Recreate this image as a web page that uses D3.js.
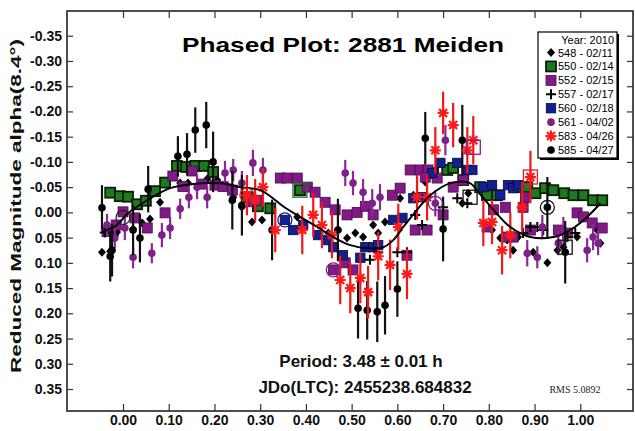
<!DOCTYPE html>
<html><head><meta charset="utf-8">
<script src="https://cdn.jsdelivr.net/npm/d3@7"></script>
<style>body{margin:0;background:#fff}svg{display:block}</style>
</head><body><svg id="c" width="635" height="431"></svg>
<script>
// ---------- data ----------
const xTicks = [0,0.1,0.2,0.3,0.4,0.5,0.6,0.7,0.8,0.9,1.0];
const xTickLabels = ["0.00","0.10","0.20","0.30","0.40","0.50","0.60","0.70","0.80","0.90","1.00"];
const yTicks = [-0.35,-0.30,-0.25,-0.20,-0.15,-0.10,-0.05,0,0.05,0.10,0.15,0.20,0.25,0.30,0.35];
const yTickLabels = ["-0.35","-0.30","-0.25","-0.20","-0.15","-0.10","-0.05","0.00","0.05","0.10","0.15","0.20","0.25","0.30","0.35"];

const legendNames = ["548 - 02/11","550 - 02/14","552 - 02/15","557 - 02/17","560 - 02/18","561 - 04/02","583 - 04/26","585 - 04/27"];

// 548 black diamonds
const s548 = [[-0.046,0.079],[-0.028,0.077],[-0.013,0.039],[0.022,0.033],[0.042,0.021],[0.059,0.013],[0.081,-0.020],[0.125,-0.058],[0.142,-0.058],[0.184,-0.066],[0.206,-0.064],[0.219,-0.050],[0.241,-0.030],[0.260,-0.010],[0.282,0.019],[0.304,0.015],[0.381,0.009],[0.449,0.041],[0.470,0.035],[0.490,0.051],[0.508,0.041],[0.525,0.049],[0.547,0.025],[0.558,0.041],[0.573,0.019],[0.606,-0.028],[0.635,-0.034],[0.661,-0.060],[0.742,-0.018],[0.755,-0.038],[0.807,0.035],[0.825,0.051],[0.840,0.055],[0.853,0.075],[0.864,0.049],[0.897,0.079],[0.928,0.100],[0.950,0.075],[0.963,0.069],[0.993,0.049],[1.037,0.035],[1.044,0.061]];
// 550 green squares
const s550 = [[-0.028,-0.039],[-0.007,-0.032],[0.011,-0.031],[0.031,-0.016],[0.050,-0.023],[0.070,-0.042],[0.092,-0.059],[0.118,-0.092],[0.138,-0.090],[0.158,-0.092],[0.177,-0.092],[0.197,-0.080],[0.272,-0.030],[0.295,-0.012],[0.322,-0.008],[0.387,-0.044],[0.678,-0.078],[0.709,-0.084],[0.722,-0.088],[0.744,-0.064],[0.781,-0.050],[0.796,-0.034],[0.818,-0.034],[0.862,-0.050],[0.884,-0.050],[0.902,-0.038],[0.923,-0.048],[0.941,-0.044],[0.965,-0.038],[0.985,-0.034],[1.007,-0.034],[1.028,-0.024],[1.048,-0.024]];
// 552 purple squares
const s552 = [[-0.035,0.038],[-0.015,0.025],[0.000,-0.001],[0.026,0.011],[0.053,0.031],[0.092,0.001],[0.109,-0.072],[0.131,-0.051],[0.151,-0.082],[0.173,-0.056],[0.201,-0.054],[0.219,-0.051],[0.239,-0.044],[0.284,-0.021],[0.293,-0.024],[0.344,-0.068],[0.359,-0.068],[0.381,-0.068],[0.403,-0.050],[0.420,-0.040],[0.442,-0.020],[0.464,-0.005],[0.490,0.005],[0.512,0.000],[0.530,-0.012],[0.547,0.005],[0.589,-0.034],[0.606,-0.048],[0.628,-0.084],[0.650,-0.084],[0.667,-0.084],[0.687,-0.068],[0.700,0.005],[0.639,0.035],[0.621,0.085],[0.460,0.114],[0.486,0.100],[0.503,0.114],[0.661,-0.070],[0.665,0.035],[0.722,-0.050],[0.744,-0.064],[0.796,0.029],[0.810,-0.005],[0.836,-0.010],[0.840,0.049],[0.853,0.049],[0.875,-0.010],[0.880,-0.030],[0.891,0.035],[0.952,0.035],[0.972,0.041],[0.993,0.001],[1.007,0.009],[1.026,0.021],[1.048,0.031]];
// 557 black plus
const s557 = [[-0.040,0.040],[-0.020,0.046],[0.540,0.094],[0.558,0.079],[0.600,0.079],[0.621,0.079],[0.639,0.005],[0.654,0.025],[0.700,-0.010],[0.731,-0.028],[0.753,-0.018],[0.875,0.041],[0.891,0.029],[0.906,0.029],[0.919,0.035],[0.972,0.049],[0.989,0.041]];
// 560 navy squares
const s560 = [[0.354,0.015],[0.372,0.035],[0.394,0.025],[0.427,0.045],[0.449,0.055],[0.460,0.069],[0.481,0.085],[0.519,0.090],[0.530,0.069],[0.547,0.069],[0.558,0.065],[0.591,0.015],[0.611,0.011],[0.635,-0.028],[0.656,-0.030],[0.676,-0.078],[0.694,-0.098],[0.731,-0.098],[0.753,-0.084],[0.764,-0.084],[0.788,-0.050],[0.807,-0.054],[0.825,-0.034],[0.842,-0.054],[0.853,-0.048],[0.864,-0.054]];
// 561 purple circles (with errors)
const s561 = [[-0.035,0.025],[-0.018,0.051],[0.004,0.031],[0.022,0.089],[0.063,0.081],[0.085,0.045],[0.103,0.031],[0.125,-0.007],[0.144,-0.030],[0.162,-0.050],[0.184,-0.030],[0.223,-0.078],[0.241,-0.084],[0.260,-0.058],[0.284,-0.098],[0.306,-0.084],[0.486,-0.078],[0.503,-0.058],[0.525,-0.040],[0.545,-0.018],[0.562,-0.030],[0.705,-0.143],[0.683,-0.018],[0.917,0.029],[0.884,0.081],[0.906,0.089],[0.952,0.061],[0.963,0.035],[1.015,0.075],[1.028,0.049],[1.039,0.061]];
const e561 = [0.022,0.020,0.024,0.022,0.020,0.024,0.022,0.020,0.022,0.024,0.022,0.024,0.022,0.024,0.026,0.024,0.026,0.024,0.026,0.028,0.026,0.030,0.026,0.024,0.026,0.022,0.024,0.026,0.024,0.026,0.024];
// 583 red asterisks (with errors)
const s583 = [[0.271,-0.034],[0.289,-0.024],[0.306,-0.050],[0.333,0.035],[0.392,0.035],[0.416,0.005],[0.435,0.025],[0.457,0.045],[0.475,0.134],[0.497,0.150],[0.519,0.130],[0.536,0.158],[0.558,0.087],[0.584,0.104],[0.602,0.029],[0.621,0.122],[0.643,-0.030],[0.665,-0.030],[0.683,-0.123],[0.700,-0.197],[0.722,-0.173],[0.753,-0.123],[0.766,-0.143],[0.788,0.021],[0.807,0.019],[0.829,0.075],[0.847,0.045],[0.873,-0.010],[0.891,-0.070]];
const e583 = [0.040,0.042,0.038,0.044,0.048,0.044,0.046,0.046,0.048,0.050,0.050,0.052,0.048,0.050,0.046,0.050,0.044,0.046,0.046,0.042,0.044,0.046,0.048,0.046,0.044,0.048,0.046,0.050,0.052];
// 585 black circles (with errors)
const s585 = [[-0.046,-0.009],[-0.028,0.087],[-0.024,0.075],[0.022,0.035],[0.037,0.051],[0.055,-0.046],[0.120,-0.111],[0.140,-0.115],[0.158,-0.163],[0.182,-0.173],[0.197,-0.100],[0.239,-0.024],[0.260,-0.014],[0.326,0.035],[0.470,0.035],[0.514,0.190],[0.534,0.194],[0.556,0.197],[0.573,0.184],[0.600,0.152],[0.661,-0.147],[0.700,0.033],[0.742,-0.143],[0.928,-0.010],[0.967,0.079]];
const e585 = [0.045,0.050,0.052,0.050,0.048,0.046,0.040,0.042,0.045,0.046,0.060,0.058,0.060,0.060,0.062,0.060,0.058,0.060,0.058,0.055,0.052,0.064,0.070,0.060,0.062];

// open marker highlights
const hiPhase = [0.000,0.354,0.460,0.683,0.928,0.891,0.766,0.967,0.759,0.387,0.271];
const hiMag   = [0.010,0.015,0.114,-0.018,-0.010,-0.070,-0.129,0.069,-0.030,-0.044,-0.034];
const hiShape = ["circle","circle","circle","circle","circle2","square","square","square","square","square","circle"];
const hiColor = ["#222","#1a1a8c","#80208a","#80208a","#111","#e02020","#80208a","#111","#111","#1e6e1e","#e02020"];

// fitted Fourier curve
const fitPhase = [-0.046,-0.013,0.009,0.053,0.103,0.153,0.190,0.228,0.256,0.300,0.322,0.350,0.387,0.425,0.460,0.497,0.534,0.569,0.591,0.613,0.643,0.672,0.716,0.759,0.777,0.810,0.847,0.891,0.941,0.978,1.015,1.044];
const fitMag   = [0.039,0.025,0.003,-0.024,-0.048,-0.056,-0.058,-0.056,-0.050,-0.044,-0.032,-0.012,0.009,0.029,0.049,0.065,0.071,0.069,0.055,0.029,-0.005,-0.034,-0.058,-0.058,-0.040,-0.005,0.029,0.049,0.049,0.035,0.009,-0.018];

// ---------- chart ----------
const svg = d3.select("#c");
const W = 635, H = 431;
const x = d3.scaleLinear().domain([-0.1225, 1.1153]).range([67, 633]);
const y = d3.scaleLinear().domain([-0.399, 0.3936]).range([11, 411]);
const FONT = "'Liberation Sans', Arial, Helvetica, sans-serif";

svg.append("rect").attr("width",W).attr("height",H).attr("fill","#fff");

svg.append("rect").attr("x",x.range()[0]).attr("y",y.range()[0])
  .attr("width",x.range()[1]-x.range()[0]).attr("height",y.range()[1]-y.range()[0])
  .attr("fill","none").attr("stroke","#222").attr("stroke-width",1.6);

const axL = svg.append("g").attr("transform",`translate(${x.range()[0]},0)`)
  .call(d3.axisLeft(y).tickValues(yTicks).tickSize(-6).tickPadding(5).tickFormat((d,i)=>yTickLabels[i]));
const axR = svg.append("g").attr("transform",`translate(${x.range()[1]},0)`)
  .call(d3.axisRight(y).tickValues(yTicks).tickSize(-6).tickFormat(""));
const axB = svg.append("g").attr("transform",`translate(0,${y.range()[1]})`)
  .call(d3.axisBottom(x).tickValues(xTicks).tickSize(-7).tickPadding(4).tickFormat((d,i)=>xTickLabels[i]));
const axT = svg.append("g").attr("transform",`translate(0,${y.range()[0]})`)
  .call(d3.axisTop(x).tickValues(xTicks).tickSize(-7).tickFormat(""));
[axL,axR,axB,axT].forEach(a=>{
  a.select(".domain").remove();
  a.selectAll(".tick line").attr("stroke","#333").attr("stroke-width",1.2);
  a.selectAll("text").attr("font-family",FONT).attr("font-weight","bold").attr("font-size",14).attr("fill","#111");
});

svg.append("text").attr("transform","translate(21,206) rotate(-90)")
  .attr("text-anchor","middle").attr("font-family",FONT).attr("font-weight","bold")
  .attr("font-size",15).attr("fill","#111")
  .attr("textLength",334).attr("lengthAdjust","spacingAndGlyphs")
  .text("Reduced Magnitude alpha(8.4°)");

svg.append("text").attr("x",343).attr("y",52).attr("text-anchor","middle")
  .attr("font-family",FONT).attr("font-weight","bold").attr("font-size",21).attr("fill","#000")
  .attr("textLength",322).attr("lengthAdjust","spacingAndGlyphs")
  .text("Phased Plot: 2881 Meiden");

svg.append("text").attr("x",361).attr("y",367).attr("text-anchor","middle")
  .attr("font-family",FONT).attr("font-weight","bold").attr("font-size",17).attr("fill","#111")
  .text("Period: 3.48 ± 0.01 h");
svg.append("text").attr("x",365).attr("y",393).attr("text-anchor","middle")
  .attr("font-family",FONT).attr("font-weight","bold").attr("font-size",17).attr("fill","#111")
  .text("JDo(LTC): 2455238.684832");
svg.append("text").attr("x",575).attr("y",393).attr("text-anchor","middle")
  .attr("font-family","'Liberation Serif', 'Times New Roman', serif").attr("font-size",10).attr("fill","#222")
  .text("RMS 5.0892");

function sym(g, type, cx, cy){
  switch(type){
    case "diamond":
      g.append("path").attr("d",`M${cx},${cy-4.5}L${cx+4},${cy}L${cx},${cy+4.5}L${cx-4},${cy}Z`).attr("fill","#000");
      break;
    case "green":
      g.append("rect").attr("x",cx-5).attr("y",cy-5).attr("width",10).attr("height",10)
        .attr("fill","#1f7a1f").attr("stroke","#0b1f0b").attr("stroke-width",1.8);
      break;
    case "purpleSq":
      g.append("rect").attr("x",cx-5).attr("y",cy-5).attr("width",10).attr("height",10)
        .attr("fill","#821a86").attr("stroke","#4a0a50").attr("stroke-width",0.8);
      break;
    case "plus":
      g.append("path").attr("d",`M${cx-5},${cy}H${cx+5}M${cx},${cy-5}V${cy+5}`).attr("stroke","#000").attr("stroke-width",2);
      break;
    case "navy":
      g.append("rect").attr("x",cx-4.7).attr("y",cy-4.7).attr("width",9.4).attr("height",9.4)
        .attr("fill","#12208e").attr("stroke","#050a40").attr("stroke-width",0.8);
      break;
    case "purpleCirc":
      g.append("circle").attr("cx",cx).attr("cy",cy).attr("r",3.8).attr("fill","#7e2088");
      break;
    case "star":
      g.append("path").attr("d",`M${cx-5.5},${cy}H${cx+5.5}M${cx},${cy-5.5}V${cy+5.5}M${cx-4},${cy-4}L${cx+4},${cy+4}M${cx-4},${cy+4}L${cx+4},${cy-4}`)
        .attr("stroke","#ff1a1a").attr("stroke-width",2.2);
      break;
    case "black":
      g.append("circle").attr("cx",cx).attr("cy",cy).attr("r",3.8).attr("fill","#000");
      break;
  }
}

const plot = svg.append("g");
function errBars(data, errs, color){
  plot.append("g").selectAll("line").data(data).join("line")
    .attr("x1",d=>x(d[0])).attr("x2",d=>x(d[0]))
    .attr("y1",(d,i)=>y(d[1]-errs[i])).attr("y2",(d,i)=>y(d[1]+errs[i]))
    .attr("stroke",color).attr("stroke-width",2.2);
}
function points(data, type){
  const g = plot.append("g");
  data.forEach(d=>sym(g,type,x(d[0]),y(d[1])));
}

points(s548,"diamond");
points(s550,"green");
points(s552,"purpleSq");
points(s560,"navy");
points(s557,"plus");
errBars(s561,e561,"#8a2a98");
points(s561,"purpleCirc");
errBars(s585,e585,"#111");
points(s585,"black");
errBars(s583,e583,"#f01818");
points(s583,"star");

const fit = fitPhase.map((p,i)=>[p,fitMag[i]]);
plot.append("path").datum(fit)
  .attr("d",d3.line().x(d=>x(d[0])).y(d=>y(d[1])).curve(d3.curveCatmullRom))
  .attr("fill","none").attr("stroke","#000").attr("stroke-width",2);

hiPhase.forEach((p,i)=>{
  const cx = x(p), cy = y(hiMag[i]);
  if(hiShape[i]==="square"){
    plot.append("rect").attr("x",cx-7).attr("y",cy-7).attr("width",14).attr("height",14)
      .attr("fill","none").attr("stroke",hiColor[i]).attr("stroke-width",1.3);
  } else {
    plot.append("circle").attr("cx",cx).attr("cy",cy).attr("r",7)
      .attr("fill","none").attr("stroke",hiColor[i]).attr("stroke-width",1.3);
    if(hiShape[i]==="circle2"){
      plot.append("circle").attr("cx",cx).attr("cy",cy).attr("r",3).attr("fill","#000");
    }
  }
});

const types = ["diamond","green","purpleSq","plus","navy","purpleCirc","star","black"];
const lg = svg.append("g");
lg.append("rect").attr("x",540).attr("y",34).attr("width",79).attr("height",126).attr("fill","#000");
lg.append("rect").attr("x",538).attr("y",32).attr("width",79).attr("height",126)
  .attr("fill","#fff").attr("stroke","#000").attr("stroke-width",1.2);
lg.append("text").attr("x",614).attr("y",44).attr("text-anchor","end")
  .attr("font-family",FONT).attr("font-size",11).attr("fill","#000").text("Year: 2010");
legendNames.forEach((n,i)=>{
  const cy = 52.5 + i*13.93;
  sym(lg, types[i], 551, cy);
  lg.append("text").attr("x",558).attr("y",cy+4).attr("font-family",FONT)
    .attr("font-size",11).attr("fill","#000").text(n);
});
</script></body></html>
